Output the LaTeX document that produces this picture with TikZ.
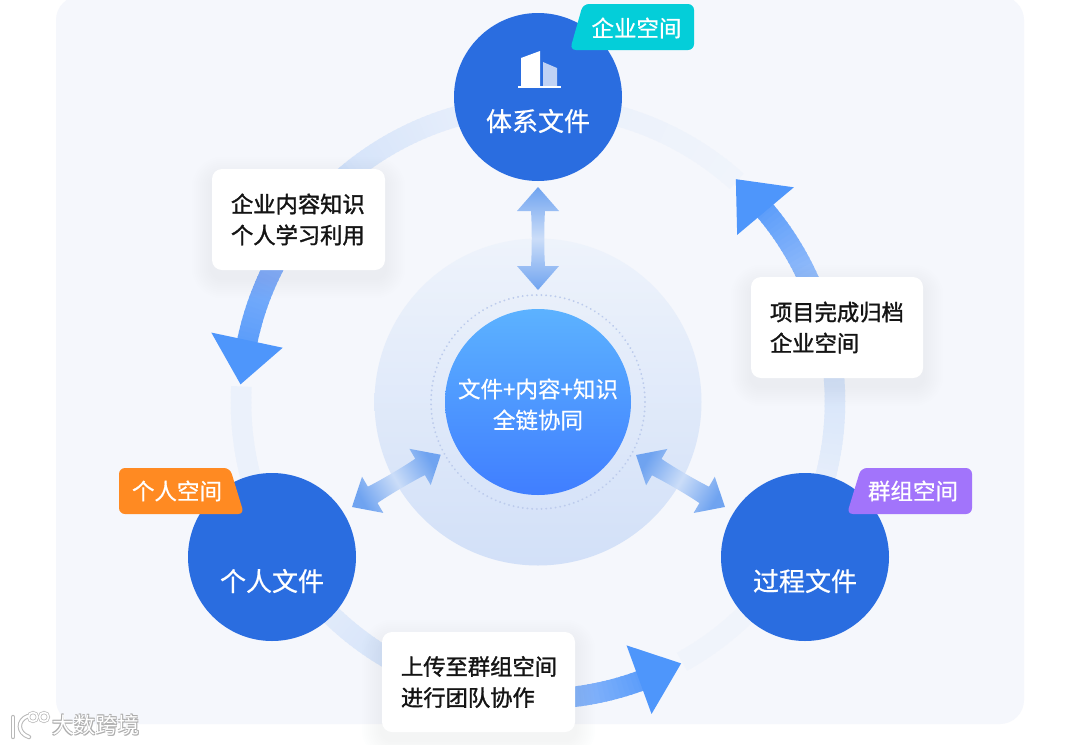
\documentclass[tikz,border=0pt]{standalone}
\usepackage{fontspec}
\setmainfont{Noto Sans CJK SC}
\newfontfamily\medcjk[FakeBold=1.4]{Noto Sans CJK SC}
\newfontfamily\lightbold[FakeBold=0.6]{Noto Sans CJK SC}
\usetikzlibrary{calc}
\definecolor{panelc}{HTML}{F5F7FC}
\definecolor{discblue}{HTML}{2A6DE0}
\definecolor{headblue}{HTML}{4E96FB}
\definecolor{ringA}{HTML}{F0F4FB}
\definecolor{ringB}{HTML}{EBF1FB}
\definecolor{ringC}{HTML}{D6E4FA}
\definecolor{ringD}{HTML}{8CB8FA}
\definecolor{ringE}{HTML}{5C9DFA}
\definecolor{dblend}{HTML}{6FA3F0}
\definecolor{dblmid}{HTML}{CBDDF8}
\definecolor{shadowc}{HTML}{7F9BCB}
\definecolor{coretop}{HTML}{5CB2FF}
\definecolor{corebot}{HTML}{407EFF}
\definecolor{halotop}{HTML}{EEF3FB}
\definecolor{halobot}{HTML}{D2E0F8}
\definecolor{dotc}{HTML}{BCCBEC}
\definecolor{tagcyan}{HTML}{04CED9}
\definecolor{tagorange}{HTML}{FF8A22}
\definecolor{tagpurple}{HTML}{A274FB}
\definecolor{iconlight}{HTML}{BFD2F5}
\newcommand{\gradarc}[4]{%
  \pgfmathtruncatemacro{\nseg}{max(2,ceil(abs(#2-#1)))}%
  \foreach \i in {1,...,\nseg}{%
    \pgfmathsetmacro{\ta}{#1+(#2-#1)*(\i-1)/\nseg}%
    \pgfmathsetmacro{\tb}{#1+(#2-#1)*\i/\nseg+(#2-#1)*0.3/\nseg}%
    \pgfmathsetmacro{\pc}{100*(\i-0.5)/\nseg}%
    \draw[ringseg,draw={#4!\pc!#3}] (C) ++(\ta:297) arc[start angle=\ta,end angle=\tb,radius=297];
  }}
\newcommand{\ringhead}[5]{%
  \fill[headblue] (C) ++(#2:#4) coordinate (#1a) (C) ++(#2:#5) coordinate (#1b) (C) ++(#3:298) coordinate (#1t)
    (#1a) -- (#1t) -- (#1b) -- cycle;}
\newcommand{\softbox}[6]{%
  \foreach \e in {20,18,...,2}{%
    \fill[shadowc,opacity=0.009,rounded corners=\e pt+10pt] (#2-#4/2-\e,#3-#5/2-\e+8) rectangle (#2+#4/2+\e,#3+#5/2+\e+8);}
  \node[labelbox,minimum width=#4pt,minimum height=#5pt,text width=#4pt-38pt] (#1) at (#2,#3) {#6};}
\newcommand{\dblarrow}[5]{%
  \begin{scope}[shift={(#1)},rotate=#2]
    \shade[top color=dblend,bottom color=dblend,middle color=dblmid,shading angle=#3]
      (0,0) coordinate (#4s) -- (24,-21) -- (24,-#5) .. controls (38,-#5+1) and (65,-#5+1) .. (79,-#5) -- (79,-21) -- (103,0) coordinate (#4e)
      -- (79,21) -- (79,#5) .. controls (65,#5-1) and (38,#5-1) .. (24,#5) -- (24,21) -- cycle;
  \end{scope}}
\tikzset{
  x=1pt,y=-1pt,
  ringseg/.style={line width=20.5pt,line cap=butt},
  disc/.style={circle,fill=discblue,inner sep=0pt,minimum size=168pt},
  disctext/.style={text=white,font=\lightbold\fontsize{26}{30}\selectfont},
  tagtext/.style={text=white,font=\lightbold\fontsize{22.5}{27}\selectfont},
  labelbox/.style={fill=white,rounded corners=10pt,inner sep=0pt,align=left,text=black!92,font=\medcjk\fontsize{22.3}{31}\selectfont},
}
\begin{document}
\begin{tikzpicture}
\useasboundingbox (0,0) rectangle (1080,745);
\clip (0,0) rectangle (1080,745);
\fill[white] (0,0) rectangle (1080,745);
\fill[panelc,rounded corners=24pt] (56,-4) rectangle (1024,724);
\coordinate (C) at (538,402);
% ring: faint parts and gradient shafts
\gradarc{-48}{-82}{ringA}{ringB}
\gradarc{183}{152}{ringB}{ringB}
\gradarc{61}{30}{ringA}{ringA}
\gradarc{28}{-5}{ringA}{ringC}
\gradarc{-5}{-27}{ringC}{ringD}
\gradarc{-27}{-40.5}{ringD}{ringE}
\gradarc{262}{232}{ringB}{ringC}
\gradarc{232}{212}{ringC}{ringD}
\gradarc{212}{191.5}{ringD}{ringE}
\gradarc{148}{120}{ringB}{ringC}
\gradarc{120}{83}{ringC}{ringD}
\gradarc{83}{69.5}{ringD}{ringE}
% arrow heads
\ringhead{hr}{-40}{-48.4}{260}{334}
\ringhead{hl}{192}{183.4}{261}{334}
\ringhead{hb}{70}{61.3}{259}{332}
% central discs
\node[circle,inner sep=0pt,minimum size=327pt,top color=halotop,bottom color=halobot] (halo) at (C) {};
\draw[dotc,line width=2pt,line cap=round,dash pattern=on 0.1pt off 4.6pt] (C) circle[radius=107];
\node[circle,inner sep=0pt,minimum size=186pt,top color=coretop,bottom color=corebot] (core) at (C) {};
\node[text=white,align=center,font=\lightbold\fontsize{22.5}{31}\selectfont] (coretext) at (538,404.5) {文件+内容+知识\\全链协同};
% outer discs
\node[disc] (topdisc) at (538,97) {};
\node[disc] (leftdisc) at (272,557) {};
\node[disc] (rightdisc) at (805,557) {};
\node[disctext] (toptext) at (538,121) {体系文件};
\node[disctext] (lefttext) at (272,581) {个人文件};
\node[disctext] (righttext) at (805,581) {过程文件};
% building icon
\fill[white] (521,58) -- (540,51) -- (540,86) -- (521,86) -- cycle;
\fill[iconlight] (543,62) -- (557,68) -- (557,86) -- (543,86) -- cycle;
\draw[white,line width=2pt] (518,87) -- (561,87);
% double arrows
\dblarrow{538,290}{90}{0}{da}{7}
\dblarrow{352,507}{30.5}{-59.5}{db}{9.5}
\dblarrow{636,455}{-30.3}{59.7}{dc}{9.5}
% label boxes
\softbox{boxa}{298.5}{219.5}{173}{101}{企业内容知识\\个人学习利用}
\softbox{boxb}{837}{327.5}{172}{101}{项目完成归档\\企业空间}
\softbox{boxc}{478.5}{682}{193}{100}{上传至群组空间\\进行团队协作}
% tags
\fill[rounded corners=6pt,tagcyan] (570,50) -- (583,4) -- (694,4) -- (694,50) -- cycle;
\node[tagtext] (tagtop) at (636.5,28) {企业空间};
\fill[rounded corners=6pt,tagorange] (119,468) -- (230,468) -- (244,514) -- (119,514) -- cycle;
\node[tagtext] (tagleft) at (177,491) {个人空间};
\fill[rounded corners=6pt,tagpurple] (861,468) -- (972,468) -- (972,514) -- (847,514) -- cycle;
\node[tagtext] (tagright) at (913,491) {群组空间};
% watermark
\begin{scope}[line cap=round]
\foreach \col/\wd in {black!28/4.4,white/2.4}{
  \draw[\col,line width=\wd pt] (13,717) -- (13,737);
  \draw[\col,line width=\wd pt] (28,716) .. controls (17,720) and (17,733) .. (29,737);
  \draw[\col,line width=0.7*\wd pt] (33,717) circle[radius=4.5];
  \draw[\col,line width=0.7*\wd pt] (44,717) circle[radius=4.5];
}
\end{scope}
\newcommand{\markshade}[2]{\rlap{\kern#1pt\raisebox{#2pt}{\textcolor{black!32}{大数跨境}}}}
\node[text=white,font=\fontsize{22}{26}\selectfont] (mark) at (96,725) {\markshade{0.8}{0.8}\markshade{-0.8}{0.8}\markshade{0.8}{-0.8}\markshade{-0.8}{-0.8}大数跨境};
\end{tikzpicture}
\end{document}
